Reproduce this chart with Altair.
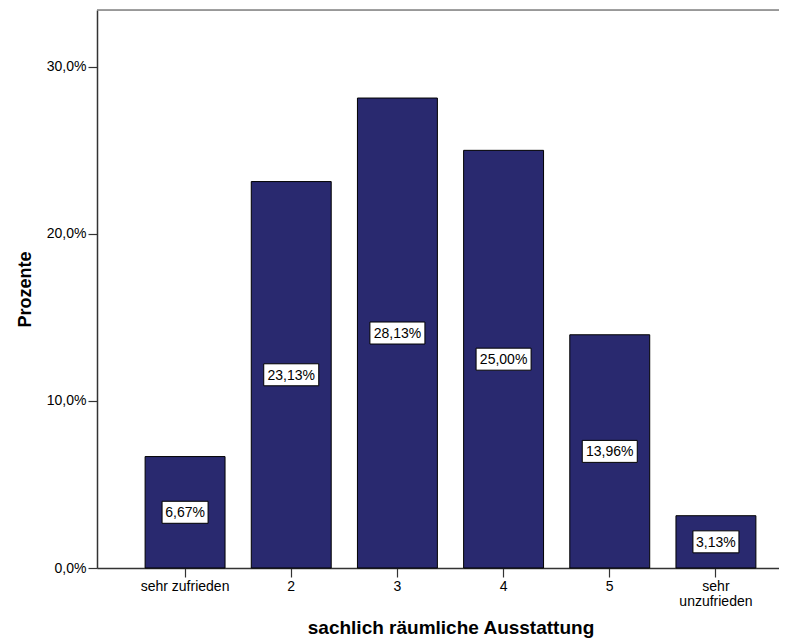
import altair as alt
import pandas as pd

categories = ["sehr zufrieden", "2", "3", "4", "5", "sehr unzufrieden"]
percent = [6.67, 23.13, 28.13, 25.00, 13.96, 3.13]
y_ticks = [0, 10, 20, 30]

df = pd.DataFrame({"cat": categories, "pct": percent})
df["label"] = [f"{v:.2f}".replace(".", ",") + "%" for v in df["pct"]]

FONT = "Liberation Sans"
BAR = "#29296f"

xscale = alt.Scale(domain=categories, range=[0, 707], paddingInner=0.247, paddingOuter=0.453)
yscale = alt.Scale(domain=[0, 33.4], nice=False, zero=True)

xaxis = alt.Axis(
    title="sachlich räumliche Ausstattung",
    labelAngle=0,
    labelFont=FONT, labelFontSize=14, labelColor="#000000",
    labelLineHeight=15, labelPadding=2,
    labelExpr="datum.value == 'sehr unzufrieden' ? ['sehr', 'unzufrieden'] : datum.value",
    tickSize=9, tickColor="#333333", tickWidth=1.2,
    domainColor="#333333", domainWidth=1.5,
    titleFont=FONT, titleFontSize=19, titleFontWeight="bold", titleColor="#000000",
    titleX=353.5, titleY=65, titleAlign="center", titleBaseline="alphabetic",
)
yaxis = alt.Axis(
    title="Prozente",
    values=y_ticks, grid=False,
    labelExpr="replace(format(datum.value, '.1f'), '.', ',') + '%'",
    labelFont=FONT, labelFontSize=14, labelColor="#000000", labelPadding=2,
    tickSize=9, tickColor="#333333", tickWidth=1.2,
    domainColor="#333333", domainWidth=1.5,
    titleFont=FONT, titleFontSize=18, titleFontWeight="bold", titleColor="#000000",
    titlePadding=12,
)

base = alt.Chart(df)

bars = base.mark_bar(color=BAR, stroke="#000000", strokeWidth=1).encode(
    x=alt.X("cat:N", scale=xscale, axis=xaxis, sort=categories),
    y=alt.Y("pct:Q", scale=yscale, axis=yaxis),
)

lab = base.transform_calculate(mid="datum.pct / 2")

box5 = lab.transform_filter("length(datum.label) == 5").mark_bar(
    color="#ffffff", stroke="#000000", strokeWidth=1, width=46, yOffset=-11, y2Offset=11
).encode(x=alt.X("cat:N", sort=categories), y="mid:Q", y2="mid:Q")

box6 = lab.transform_filter("length(datum.label) == 6").mark_bar(
    color="#ffffff", stroke="#000000", strokeWidth=1, width=55, yOffset=-11, y2Offset=11
).encode(x=alt.X("cat:N", sort=categories), y="mid:Q", y2="mid:Q")

texts = lab.mark_text(font=FONT, fontSize=14, color="#000000", baseline="middle", align="center", dy=1).encode(
    x=alt.X("cat:N", sort=categories), y="mid:Q", text="label:N"
)

border = alt.Chart(pd.DataFrame({"a": [0]})).mark_rule(color="#808080", strokeWidth=1.5).encode(
    x=alt.value(0), x2=alt.value(682), y=alt.value(0)
)

chart = alt.layer(bars, box5, box6, texts, border).properties(
    width=682, height=558,
    autosize=alt.AutoSizeParams(type="none"),
    padding={"left": 89, "top": 2, "right": 0, "bottom": 70},
).configure_view(stroke=None, fill="#EFEFEF").configure(background="#ffffff")

chart.save("out.html", embed_options={"renderer": "svg", "actions": False})
